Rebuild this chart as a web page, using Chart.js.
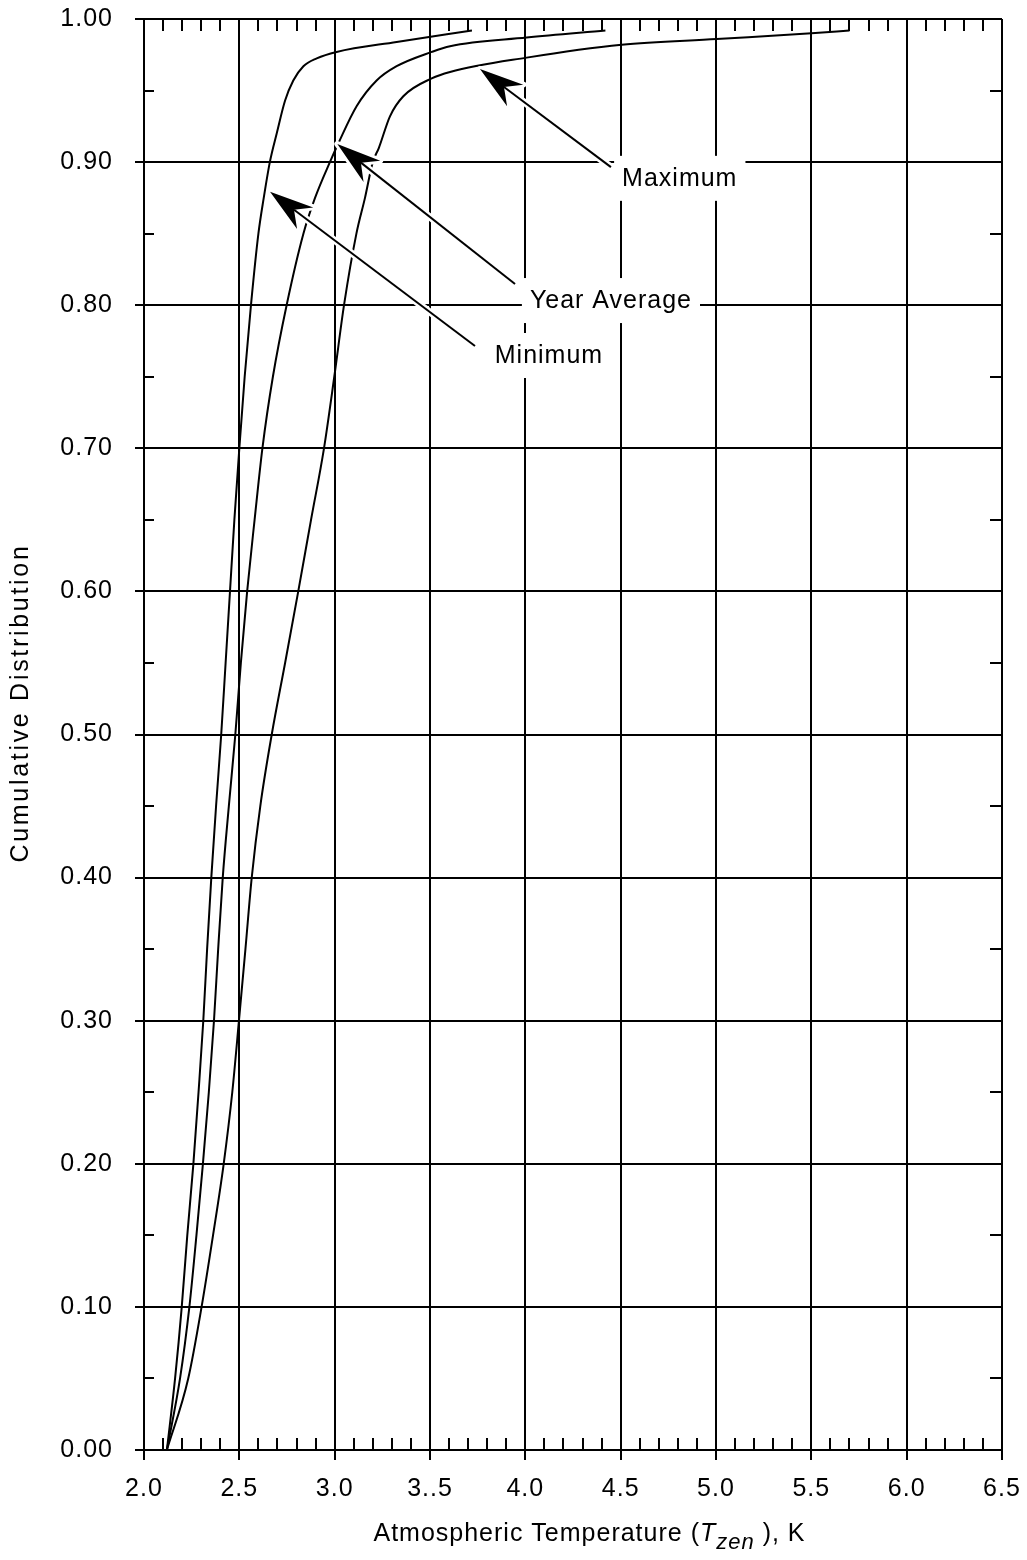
<!DOCTYPE html>
<html>
<head>
<meta charset="utf-8">
<title>Cumulative Distribution of Atmospheric Temperature</title>
<script src="https://cdn.jsdelivr.net/npm/chart.js@4"></script>
<style>
    body { margin: 0; background: #fff; }
    canvas { display: block; }
</style>
</head>
<body>
<canvas id="cdfChart" width="1027" height="1560"></canvas>
<script>
// Cumulative distribution of zenith atmospheric temperature, three curves
// (minimum month, year average, maximum month).

const minTemp = [2.12, 2.163, 2.198, 2.227, 2.259, 2.286, 2.311, 2.331, 2.353, 2.378, 2.405, 2.428, 2.451, 2.474, 2.500, 2.528, 2.561, 2.600, 2.628, 2.660, 2.696, 2.740, 2.783, 2.836, 2.906, 3.010, 3.325, 3.72];
const minCum  = [0.00, 0.05, 0.10, 0.15, 0.20, 0.25, 0.30, 0.35, 0.40, 0.45, 0.50, 0.55, 0.60, 0.65, 0.70, 0.75, 0.80, 0.85, 0.875, 0.90, 0.92, 0.943, 0.957, 0.967, 0.9725, 0.977, 0.984, 0.992];

const avgTemp = [2.12, 2.189, 2.238, 2.275, 2.309, 2.340, 2.367, 2.389, 2.413, 2.445, 2.479, 2.508, 2.541, 2.580, 2.621, 2.676, 2.748, 2.836, 2.897, 2.975, 3.019, 3.115, 3.220, 3.325, 3.509, 3.605, 4.007, 4.42];
const avgCum  = [0.00, 0.05, 0.10, 0.15, 0.20, 0.25, 0.30, 0.35, 0.40, 0.45, 0.50, 0.55, 0.60, 0.65, 0.70, 0.75, 0.80, 0.85, 0.875, 0.90, 0.913, 0.939, 0.957, 0.967, 0.977, 0.981, 0.987, 0.992];

const maxTemp = [2.12, 2.232, 2.302, 2.362, 2.418, 2.463, 2.498, 2.532, 2.565, 2.610, 2.670, 2.740, 2.809, 2.876, 2.944, 2.998, 3.049, 3.114, 3.159, 3.200, 3.232, 3.290, 3.360, 3.509, 3.605, 4.007, 4.505, 5.003, 5.501, 5.70];
const maxCum  = [0.00, 0.05, 0.10, 0.15, 0.20, 0.25, 0.30, 0.35, 0.40, 0.45, 0.50, 0.55, 0.60, 0.65, 0.70, 0.75, 0.80, 0.85, 0.875, 0.90, 0.91, 0.932, 0.946, 0.9585, 0.963, 0.973, 0.982, 0.986, 0.990, 0.992];

const xTicks = [2.0, 2.5, 3.0, 3.5, 4.0, 4.5, 5.0, 5.5, 6.0, 6.5];
const xTickLabels = ['2.0', '2.5', '3.0', '3..5', '4.0', '4.5', '5.0', '5.5', '6.0', '6.5'];
const yTicks = [0, 0.1, 0.2, 0.3, 0.4, 0.5, 0.6, 0.7, 0.8, 0.9, 1.0];
const yTickLabels = ['0.00', '0.10', '0.20', '0.30', '0.40', '0.50', '0.60', '0.70', '0.80', '0.90', '1.00'];

// callouts: label centre, arrow tail and arrow tip, all in data units
const callouts = [
    { text: 'Maximum', label: [4.81, 0.889], tail: [4.449, 0.8965], tip: [3.762, 0.965] },
    { text: 'Year Average', label: [4.449, 0.8036], tail: [3.946, 0.8148], tip: [3.014, 0.9126] },
    { text: 'Minimum', label: [4.124, 0.7652], tail: [3.736, 0.7715], tip: [2.661, 0.8793] }
];

const FONT = '"Liberation Sans", Arial, Helvetica, sans-serif';
const INK = '#000';

function toPoints(xs, ys) {
    return xs.map((x, i) => ({ x, y: ys[i] }));
}

function curve(label, xs, ys) {
    return {
        label,
        data: toPoints(xs, ys),
        showLine: true,
        borderColor: INK,
        borderWidth: 2,
        pointRadius: 0,
        cubicInterpolationMode: 'monotone'
    };
}

function drawArrow(ctx, tail, tip) {
    const dx = tip[0] - tail[0], dy = tip[1] - tail[1];
    const len = Math.hypot(dx, dy);
    const ux = dx / len, uy = dy / len;
    const px = -uy, py = ux;
    const headLen = 44, half = 13.5, notch = 30;
    const base = [tip[0] - ux * notch, tip[1] - uy * notch];
    const b1 = [tip[0] - ux * headLen + px * half, tip[1] - uy * headLen + py * half];
    const b2 = [tip[0] - ux * headLen - px * half, tip[1] - uy * headLen - py * half];

    const head = () => {
        ctx.beginPath();
        ctx.moveTo(tip[0], tip[1]);
        ctx.lineTo(b1[0], b1[1]);
        ctx.lineTo(base[0], base[1]);
        ctx.lineTo(b2[0], b2[1]);
        ctx.closePath();
    };

    // white halo first, so the arrow cuts the lines it crosses
    ctx.strokeStyle = '#fff';
    ctx.lineJoin = 'round';
    ctx.lineWidth = 7;
    ctx.beginPath();
    ctx.moveTo(tail[0], tail[1]);
    ctx.lineTo(base[0], base[1]);
    ctx.stroke();
    ctx.lineWidth = 6;
    head();
    ctx.stroke();

    ctx.strokeStyle = INK;
    ctx.fillStyle = INK;
    ctx.lineWidth = 2;
    ctx.beginPath();
    ctx.moveTo(tail[0], tail[1]);
    ctx.lineTo(base[0], base[1]);
    ctx.stroke();
    head();
    ctx.fill();
}

// keep the plot frame where the figure has it, whatever the labels need
function noScalePadding(scale) {
    scale.paddingTop = 0;
    scale.paddingBottom = 0;
    scale.paddingLeft = 0;
    scale.paddingRight = 0;
}

const decorPlugin = {
    id: 'decor',
    beforeDraw(chart) {
        chart.ctx.letterSpacing = '1px';
    },
    afterDraw(chart) {
        const { ctx, chartArea: area, scales: { x, y } } = chart;
        ctx.save();

        // inward minor ticks on all four sides
        ctx.strokeStyle = INK;
        ctx.lineWidth = 2;
        ctx.beginPath();
        for (let i = 1; i < 45; i++) {
            if (i % 5 === 0) continue;
            const px = Math.round(x.getPixelForValue(2 + i * 0.1));
            ctx.moveTo(px, area.bottom); ctx.lineTo(px, area.bottom - 12);
            ctx.moveTo(px, area.top); ctx.lineTo(px, area.top + 12);
        }
        for (let i = 1; i < 20; i += 2) {
            const py = Math.round(y.getPixelForValue(i * 0.05));
            ctx.moveTo(area.left, py); ctx.lineTo(area.left + 10, py);
            ctx.moveTo(area.right, py); ctx.lineTo(area.right - 12, py);
        }
        ctx.stroke();

        // callouts
        ctx.font = `25px ${FONT}`;
        ctx.letterSpacing = '1px';
        ctx.textAlign = 'center';
        ctx.textBaseline = 'middle';
        callouts.forEach((c) => {
            const tail = [x.getPixelForValue(c.tail[0]), y.getPixelForValue(c.tail[1])];
            const tip = [x.getPixelForValue(c.tip[0]), y.getPixelForValue(c.tip[1])];
            drawArrow(ctx, tail, tip);

            const lx = x.getPixelForValue(c.label[0]);
            const ly = y.getPixelForValue(c.label[1]);
            const w = ctx.measureText(c.text).width + 16;
            ctx.fillStyle = '#fff';
            ctx.fillRect(lx - w / 2, ly - 22, w, 45);
            ctx.fillStyle = INK;
            ctx.fillText(c.text, lx, ly + 1);
        });

        // y axis title
        ctx.save();
        ctx.translate(28, 703);
        ctx.rotate(-Math.PI / 2);
        ctx.letterSpacing = '2.7px';
        ctx.textBaseline = 'alphabetic';
        ctx.font = `25px ${FONT}`;
        ctx.fillText('Cumulative Distribution', 0, 0);
        ctx.restore();

        // x axis title with italic subscripted T_zen
        const parts = [
            { text: 'Atmospheric Temperature (', font: `25px ${FONT}`, dy: 0 },
            { text: 'T', font: `italic 25px ${FONT}`, dy: 0 },
            { text: 'zen', font: `italic 22px ${FONT}`, dy: 8 },
            { text: ' ), K', font: `25px ${FONT}`, dy: 0 }
        ];
        ctx.textAlign = 'left';
        ctx.textBaseline = 'alphabetic';
        ctx.letterSpacing = '1px';
        let total = 0;
        parts.forEach((p) => { ctx.font = p.font; p.w = ctx.measureText(p.text).width; total += p.w; });
        let cx = 589.5 - total / 2;
        parts.forEach((p) => {
            ctx.font = p.font;
            ctx.fillText(p.text, cx, 1541 + p.dy);
            cx += p.w;
        });

        ctx.restore();
    }
};

new Chart(document.getElementById('cdfChart').getContext('2d'), {
    type: 'scatter',
    data: {
        datasets: [
            curve('Minimum', minTemp, minCum),
            curve('Year Average', avgTemp, avgCum),
            curve('Maximum', maxTemp, maxCum)
        ]
    },
    options: {
        responsive: false,
        devicePixelRatio: 1,
        animation: false,
        layout: { padding: { top: 19, right: 25, left: 0, bottom: 0 } },
        plugins: { legend: { display: false }, tooltip: { enabled: false } },
        scales: {
            x: {
                type: 'linear',
                min: 2.0,
                max: 6.5,
                afterBuildTicks: (scale) => { scale.ticks = xTicks.map((value) => ({ value })); },
                afterFit: (scale) => { scale.height = 110; noScalePadding(scale); },
                ticks: {
                    callback: (value, index) => xTickLabels[index],
                    autoSkip: false,
                    maxRotation: 0,
                    padding: 14,
                    color: INK,
                    font: { family: FONT, size: 25 }
                },
                grid: { color: INK, lineWidth: 2, tickLength: 10, tickColor: INK },
                border: { color: INK, width: 2 }
            },
            y: {
                type: 'linear',
                min: 0,
                max: 1,
                afterBuildTicks: (scale) => { scale.ticks = yTicks.map((value) => ({ value })); },
                afterFit: (scale) => { scale.width = 144; noScalePadding(scale); },
                ticks: {
                    callback: (value, index) => yTickLabels[index],
                    autoSkip: false,
                    padding: 22,
                    color: INK,
                    font: { family: FONT, size: 25 }
                },
                grid: { color: INK, lineWidth: 2, tickLength: 9, tickColor: INK },
                border: { color: INK, width: 2 }
            }
        }
    },
    plugins: [decorPlugin]
});
</script>
</body>
</html>
